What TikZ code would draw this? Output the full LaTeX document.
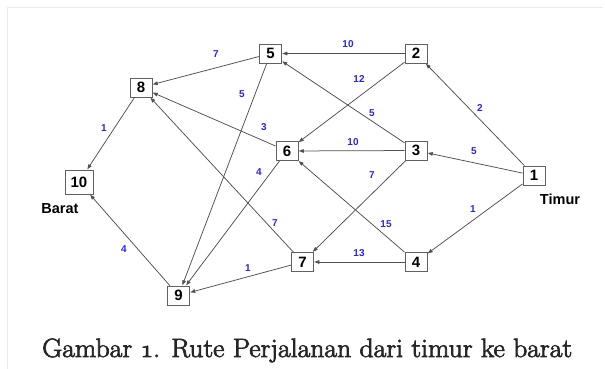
\documentclass[tikz,border=0pt]{standalone}
\usepackage{fontspec}
\setsansfont{Liberation Sans}
\usetikzlibrary{arrows.meta}
\definecolor{edgegray}{HTML}{505050}
\definecolor{boxgray}{HTML}{606060}
\definecolor{lblblue}{HTML}{2626F2}
\definecolor{framegray}{HTML}{EBEBEB}
% old-style figure one from the Computer Modern math italic font
\newcommand{\osone}{{\usefont{OML}{cmm}{m}{it}1}}
% slightly heavier glyphs: fill and stroke the outlines
\newcommand{\heavytext}[1]{\special{pdf:literal direct 0.7 w 2 Tr}#1\special{pdf:literal direct 0 Tr}}

\begin{document}
\begin{tikzpicture}[x=1pt,y=-1pt,
  place/.style={draw=boxgray, line width=0.9pt, fill=white,
    minimum width=22pt, minimum height=19pt, inner sep=0pt,
    font=\sffamily\bfseries\fontsize{15}{15}\selectfont},
  road/.style={draw=edgegray, line width=0.75pt,
    -{Triangle[length=5pt,width=3.6pt]}, shorten >=0.3pt},
  cost/.style={text=lblblue, inner sep=0pt,
    font=\sffamily\bfseries\fontsize{10}{10}\selectfont},
  side/.style={inner sep=0pt,
    font=\sffamily\bfseries\fontsize{14.5}{14.5}\selectfont}]

\useasboundingbox (0,0) rectangle (605,369);
\fill[white] (0,0) rectangle (605,369);

% light page frame
\draw[framegray, line width=1.2pt] (7.5,369) -- (7.5,7.5) -- (603,7.5);

% places
\node[place] (n1)  at (534,175.5) {1};
\node[place] (n2)  at (416,53.5)  {2};
\node[place] (n3)  at (416,150.5) {3};
\node[place] (n4)  at (416,262)   {4};
\node[place] (n5)  at (270.5,53.5){5};
\node[place] (n6)  at (287,151)   {6};
\node[place] (n7)  at (302.5,262) {7};
\node[place] (n8)  at (141,87.5)  {8};
\node[place] (n9)  at (178.5,295.5){9};
\node[place, minimum width=28pt, minimum height=24pt] (n10) at (79,182) {10};

\node[side] (barat) at (60,209) {Barat};
\node[side] (timur) at (560,199) {Timur};

% roads
\draw[road] (n1) -- (n2);
\draw[road] (n1) -- (n3);
\draw[road] (n1) -- (n4);
\draw[road] (n2) -- (n5);
\draw[road] (n2) -- (n6);
\draw[road] (n3) -- (n5);
\draw[road] (n3) -- (n6);
\draw[road] (n3) -- (n7);
\draw[road] (n4) -- (n6);
\draw[road] (n4) -- (n7);
\draw[road] (n5) -- (n8);
\draw[road] (n5) -- (n9);
\draw[road] (n6) -- (n8);
\draw[road] (n6) -- (n9);
\draw[road] (n7) -- (n8);
\draw[road] (n7) -- (n9);
\draw[road] (n8) -- (n10);
\draw[road] (n9) -- (n10);

% costs
\node[cost] (c12)  at (480,108) {2};
\node[cost] (c13)  at (474,151) {5};
\node[cost] (c14)  at (473,209) {1};
\node[cost] (c25)  at (348,44)  {10};
\node[cost] (c26)  at (359,79)  {12};
\node[cost] (c35)  at (372,113) {5};
\node[cost] (c36)  at (353,142) {10};
\node[cost] (c37)  at (372,175) {7};
\node[cost] (c46)  at (386,224) {15};
\node[cost] (c47)  at (359,253) {13};
\node[cost] (c58)  at (216,54)  {7};
\node[cost] (c59)  at (242,94)  {5};
\node[cost] (c68)  at (264,127) {3};
\node[cost] (c69)  at (259,172) {4};
\node[cost] (c78)  at (275,223) {7};
\node[cost] (c79)  at (248,268) {1};
\node[cost] (c810) at (104,128) {1};
\node[cost] (c910) at (124,249) {4};

% caption
\node[anchor=base west, inner sep=0pt, text=black!85] (caption) at (42,357)
  {\resizebox{530pt}{\height}{\fontsize{26.5}{26.5}\selectfont\heavytext{Gambar \osone. Rute Perjalanan dari timur ke barat}}};
\end{tikzpicture}
\end{document}
